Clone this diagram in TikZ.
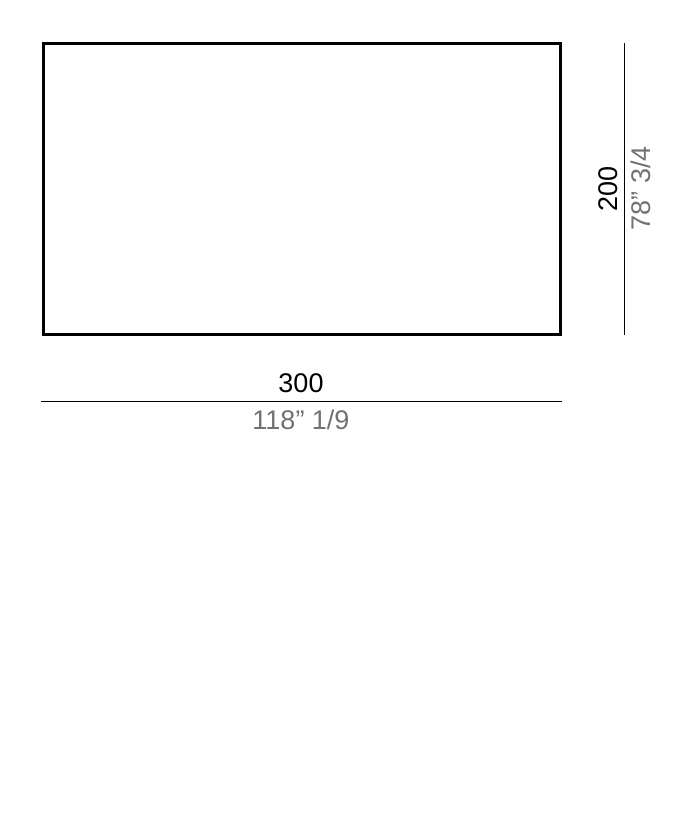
\documentclass[tikz,border=0pt]{standalone}
\usepackage{fontspec}
\setmainfont{Liberation Sans}
\definecolor{dimgray}{HTML}{727272}
\begin{document}
\begin{tikzpicture}[x=1pt,y=-1pt,
  outline/.style={draw=black,line width=2.8pt},
  dimline/.style={draw=black,line width=1pt},
  mainlbl/.style={font=\fontsize{27}{31}\selectfont,text=black,inner sep=0pt},
  sublbl/.style={font=\fontsize{27}{31}\selectfont,text=dimgray,inner sep=0pt}]
\useasboundingbox (0,0) rectangle (694,835);
\fill[white] (0,0) rectangle (694,835);
\draw[outline] (43.5,43.5) rectangle (560.5,334.5);
\coordinate (hl) at (41,401);
\coordinate (hr) at (562,401);
\draw[dimline] (hl) -- (hr);
\coordinate (vt) at (624.5,43);
\coordinate (vb) at (624.5,335);
\draw[dimline] (vt) -- (vb);
\node[mainlbl] (w) at (301,383) {300};
\node[sublbl] (wi) at (301,420) {118” 1/9};
\node[mainlbl,rotate=90] (h) at (608,189) {200};
\node[sublbl,rotate=90] (hi) at (641,188) {78” 3/4};
\end{tikzpicture}
\end{document}
